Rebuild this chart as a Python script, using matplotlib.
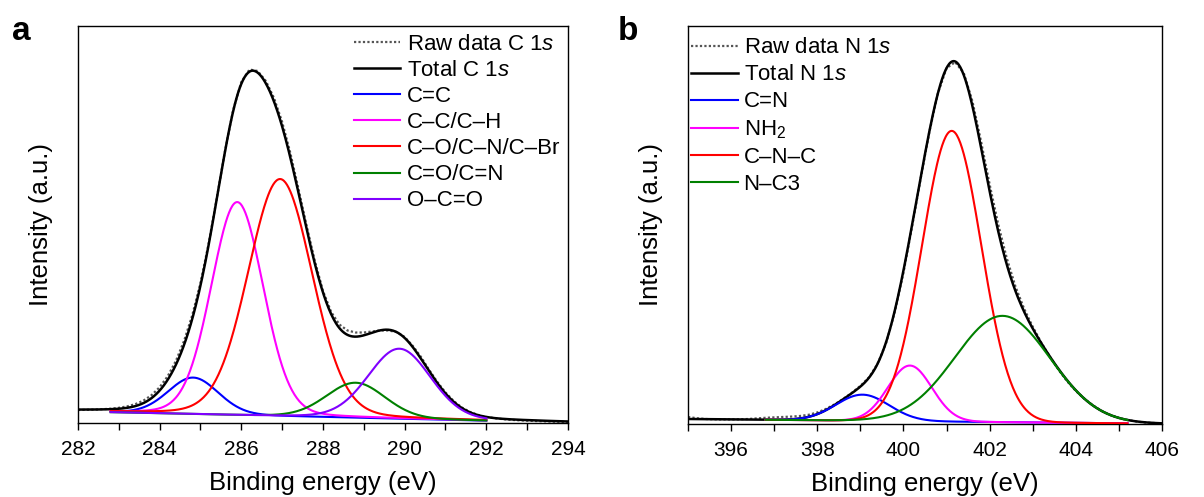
import numpy as np
import matplotlib
matplotlib.use('Agg')
import matplotlib.pyplot as plt
from matplotlib.ticker import MultipleLocator, NullLocator

plt.rcParams['font.family'] = ['Liberation Sans', 'DejaVu Sans']
plt.rcParams['mathtext.fontset'] = 'custom'
plt.rcParams['mathtext.rm'] = 'Liberation Sans'
plt.rcParams['mathtext.it'] = 'Liberation Sans:italic'
plt.rcParams['mathtext.bf'] = 'Liberation Sans:bold'

# ---------------- Panel a : C 1s ----------------
c1s_labels = ['C=C', 'C–C/C–H', 'C–O/C–N/C–Br', 'C=O/C=N', 'O–C=O']
c1s_colors = ['#0000ff', '#ff00ff', '#ff0000', '#008000', '#8000ff']
c1s_center = [284.82, 285.90, 286.95, 288.80, 289.87]
c1s_fwhm = [1.45, 1.50, 1.85, 1.70, 1.80]
c1s_height = [36.5, 213.0, 237.0, 35.0, 70.0]
c1s_lorentz = 0.1
c1s_bg = [11.5, 0.5]          # background at the two ends of the range
c1s_range = [282.0, 294.0]
c1s_fit_range = [282.8, 292.0]
c1s_ticks = [282, 284, 286, 288, 290, 292, 294]
c1s_raw_start, c1s_raw_step = 282.0, 0.2
c1s_raw = [13.0, 13.2, 13.4, 13.8, 14.3, 15.2, 16.6, 18.8, 22.3, 27.8,
           35.8, 47.0, 62.3, 82.4, 108.0, 140.0, 179.5, 225.0, 272.0, 313.0,
           341.0, 353.5, 352.0, 342.0, 325.0, 301.0, 270.0, 234.0, 197.0, 162.0,
           132.0, 111.0, 98.5, 92.5, 90.5, 90.5, 91.5, 92.5, 92.5, 91.0,
           86.0, 77.0, 66.0, 53.0, 41.0, 30.5, 22.0, 15.5, 11.0, 8.0,
           6.0, 4.8, 3.9, 3.2, 2.7, 2.3, 2.0, 1.7, 1.4, 1.2, 1.0]

# ---------------- Panel b : N 1s ----------------
n1s_labels = ['C=N', 'NH$_2$', 'C–N–C', 'N–C3']
n1s_colors = ['#0000ff', '#ff00ff', '#ff0000', '#008000']
n1s_center = [399.05, 400.15, 401.12, 402.30]
n1s_fwhm = [1.45, 1.20, 1.62, 2.60]
n1s_height = [26.0, 55.5, 290.0, 106.0]
n1s_lorentz = 0.0
n1s_bg = [5.0, 0.3]
n1s_range = [395.0, 406.0]
n1s_fit_range = [396.8, 405.2]
n1s_ticks = [396, 398, 400, 402, 404, 406]
n1s_raw_start, n1s_raw_step = 395.0, 0.2
n1s_raw = [7.0, 5.8, 5.0, 4.7, 4.6, 4.6, 4.7, 5.0, 5.6, 6.2,
           6.6, 7.0, 7.4, 8.0, 9.2, 11.5, 15.0, 19.5, 25.0, 31.0,
           38.0, 46.5, 60.0, 81.0, 112.0, 151.0, 197.0, 245.0, 291.0, 330.0,
           355.0, 361.0, 350.0, 322.0, 282.0, 239.0, 199.0, 165.0, 137.0, 115.0,
           97.0, 81.0, 67.0, 54.0, 42.5, 33.0, 25.0, 18.5, 13.0, 9.0,
           6.0, 4.0, 2.5, 1.5, 1.0, 0.7]


def peak(E, c, w, h, eta):
    s = w / 2.3548
    g = np.exp(-0.5 * ((E - c) / s) ** 2)
    lo = 1.0 / (1.0 + ((E - c) / (w / 2.0)) ** 2)
    return h * (eta * lo + (1 - eta) * g)


def background(E, rng, bg):
    return bg[0] + (bg[1] - bg[0]) * (E - rng[0]) / (rng[1] - rng[0])


fig = plt.figure(figsize=(12.04, 4.97), dpi=100)
ax_a = fig.add_axes([78 / 1204, 74 / 497, 490 / 1204, 397 / 497])
ax_b = fig.add_axes([688 / 1204, 73 / 497, 474 / 1204, 398 / 497])


def draw(ax, labels, colors, centers, fwhms, heights, eta, bg, rng, fit_rng,
         ticks, raw_start, raw_step, raw, core):
    E = np.arange(rng[0], rng[1] + 1e-9, 0.02)
    total = background(E, rng, bg)
    for c, w, h in zip(centers, fwhms, heights):
        total = total + peak(E, c, w, h, eta)
    Er = raw_start + raw_step * np.arange(len(raw))
    h_raw, = ax.plot(Er, raw, color='#555555', lw=1.6, ls=(0, (1, 1)),
                     zorder=2, label='Raw data %s 1$\\it{s}$' % core)
    h_tot, = ax.plot(E, total, color='black', lw=1.8, zorder=3,
                     label='Total %s 1$\\it{s}$' % core)
    Ef = np.arange(fit_rng[0], fit_rng[1] + 1e-9, 0.02)
    handles = [h_raw, h_tot]
    for lab, col, c, w, h in zip(labels, colors, centers, fwhms, heights):
        y = background(Ef, rng, bg) + peak(Ef, c, w, h, eta)
        hh, = ax.plot(Ef, y, color=col, lw=1.5, zorder=4, label=lab)
        handles.append(hh)
    ax.set_xlim(rng)
    ax.set_ylim(0, 397)
    ax.set_xticks(ticks)
    ax.xaxis.set_minor_locator(MultipleLocator(1))
    ax.yaxis.set_major_locator(NullLocator())
    ax.tick_params(axis='x', which='major', direction='out', length=5,
                   width=1, labelsize=15, pad=7)
    ax.tick_params(axis='x', which='minor', direction='out', length=5,
                   width=1)
    for sp in ax.spines.values():
        sp.set_linewidth(1.0)
    ax.set_xlabel('Binding energy (eV)', fontsize=18.5, labelpad=9)
    ax.set_ylabel('Intensity (a.u.)', fontsize=18.5, labelpad=18)
    return handles


ha = draw(ax_a, c1s_labels, c1s_colors, c1s_center, c1s_fwhm, c1s_height,
          c1s_lorentz, c1s_bg, c1s_range, c1s_fit_range, c1s_ticks,
          c1s_raw_start, c1s_raw_step, c1s_raw, 'C')
hb = draw(ax_b, n1s_labels, n1s_colors, n1s_center, n1s_fwhm, n1s_height,
          n1s_lorentz, n1s_bg, n1s_range, n1s_fit_range, n1s_ticks,
          n1s_raw_start, n1s_raw_step, n1s_raw, 'N')

ax_a.legend(handles=ha, loc='upper right', frameon=False, fontsize=16,
            handlelength=2.1, handletextpad=0.3, labelspacing=0.23,
            borderaxespad=0.15, borderpad=0.2)
ax_b.legend(handles=hb, loc='upper left', bbox_to_anchor=(0.0, 0.98),
            frameon=False, fontsize=16,
            handlelength=2.1, handletextpad=0.25, labelspacing=0.27,
            borderaxespad=0.0, borderpad=0.15)

fig.text(12 / 1204, 1 - 40 / 497, 'a', fontsize=24, fontweight='bold',
         va='baseline', ha='left')
fig.text(618 / 1204, 1 - 40 / 497, 'b', fontsize=24, fontweight='bold',
         va='baseline', ha='left')

fig.savefig('out.png', dpi=100)
